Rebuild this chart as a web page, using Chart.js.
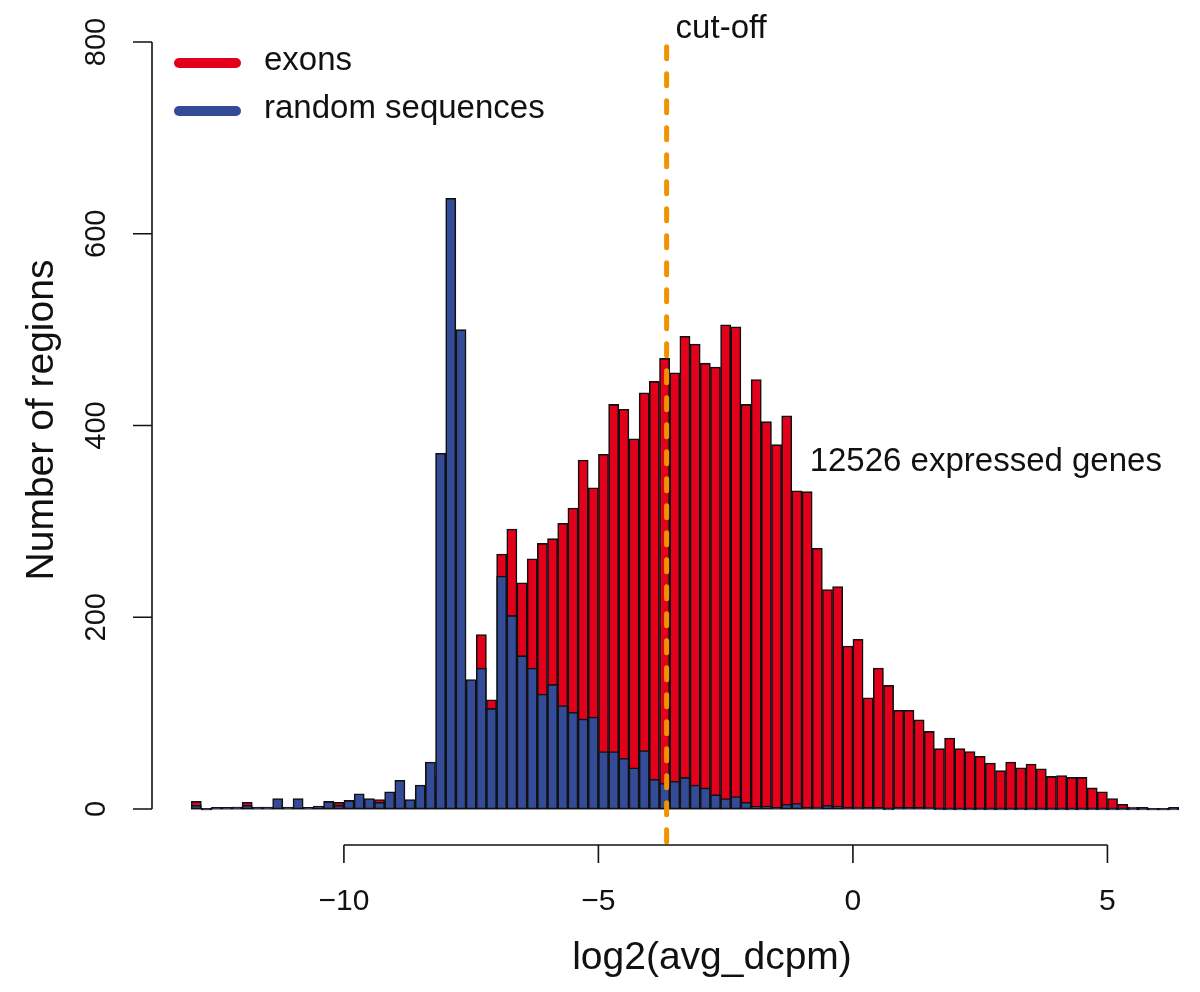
<!DOCTYPE html>
<html>
<head>
<meta charset="utf-8">
<script src="https://cdn.jsdelivr.net/npm/chart.js@4.4.1/dist/chart.umd.min.js"></script>
<style>
  html, body { margin: 0; padding: 0; background: #fff; }
  #wrap { width: 1200px; height: 992px; position: relative; }
</style>
</head>
<body>
<div id="wrap"><canvas id="chart"></canvas></div>
<script>
// histogram breaks: 0.2 wide bins starting at -13
const binStart = -13;
const binWidth = 0.2;

// counts per bin (exons / random sequences)
const exons = [
  8, 0, 1, 1, 2, 7, 1, 1, 2, 1,
  2, 1, 2, 3, 7, 3, 4, 5, 10, 8,
  10, 8, 12, 20, 35, 40, 50, 80, 182, 114,
  266, 292, 236, 261, 277, 282, 298, 314, 364, 335,
  370, 422, 417, 386, 434, 446, 470, 455, 493, 485,
  465, 461, 505, 503, 422, 448, 404, 380, 410, 332,
  331, 272, 229, 232, 170, 177, 116, 147, 129, 103,
  103, 93, 81, 63, 74, 63, 60, 55, 48, 40,
  49, 43, 47, 42, 34, 35, 33, 33, 22, 18,
  11, 5, 2, 1, 0, 0, 1
];
const randomSeq = [
  4, 0, 1, 1, 2, 4, 2, 2, 11, 2,
  11, 1, 3, 8, 4, 9, 16, 11, 7, 18,
  30, 10, 25, 49, 371, 637, 500, 135, 147, 105,
  243, 202, 160, 147, 120, 130, 108, 101, 94, 96,
  60, 60, 53, 43, 61, 31, 27, 29, 33, 25,
  22, 15, 11, 13, 7, 3, 3, 1, 5, 6,
  1, 2, 4, 3, 1, 2, 1, 1, 0, 1,
  1, 1, 2, 0, 0, 0, 0, 0, 0, 0,
  0, 0, 0, 0, 0, 0, 0, 0, 0, 0,
  0, 0, 0, 0, 0, 0, 0
];

const yTicks = [0, 200, 400, 600, 800];
const yTickLabels = ['0', '200', '400', '600', '800'];
const xTicks = [-10, -5, 0, 5];
const xTickLabels = ['\u221210', '\u22125', '0', '5'];

const cutOff = -3.66;
const cutOffLabel = 'cut-off';
const exprLabel = '12526 expressed genes';
const exprPos = { x: -0.85, y: 362 };

const RED = '#e2001a';
const BLUE = '#344b97';
const ORANGE = '#f39200';
const INK = '#111';
const FONT = "'Liberation Sans', Arial, Helvetica, sans-serif";

const centers = exons.map((_, i) => binStart + binWidth * (i + 0.5));

// R style axes, legend and annotations
const rStyle = {
  id: 'rStyle',
  afterDatasetsDraw(chart) {
    const { ctx, scales: { x, y } } = chart;
    // dashed cut-off line
    const cx = x.getPixelForValue(cutOff);
    ctx.save();
    ctx.strokeStyle = ORANGE;
    ctx.lineWidth = 5;
    ctx.lineCap = 'round';
    ctx.setLineDash([12, 15]);
    ctx.beginPath();
    ctx.moveTo(cx, y.getPixelForValue(795));
    ctx.lineTo(cx, y.getPixelForValue(-40));
    ctx.stroke();
    ctx.restore();
  },
  afterDraw(chart) {
    const { ctx, chartArea, scales: { x, y } } = chart;
    ctx.save();
    ctx.strokeStyle = INK;
    ctx.fillStyle = INK;
    ctx.lineWidth = 1.6;

    // y axis
    const ax = chartArea.left;
    ctx.beginPath();
    ctx.moveTo(ax, y.getPixelForValue(yTicks[0]));
    ctx.lineTo(ax, y.getPixelForValue(yTicks[yTicks.length - 1]));
    yTicks.forEach(v => {
      const py = y.getPixelForValue(v);
      ctx.moveTo(ax - 19, py);
      ctx.lineTo(ax, py);
    });
    ctx.stroke();
    ctx.font = '29px ' + FONT;
    ctx.textAlign = 'center';
    ctx.textBaseline = 'middle';
    yTicks.forEach((v, i) => {
      ctx.save();
      ctx.translate(ax - 55, y.getPixelForValue(v));
      ctx.rotate(-Math.PI / 2);
      ctx.fillText(yTickLabels[i], 0, 0);
      ctx.restore();
    });

    // x axis (detached below the bars)
    const ay = y.getPixelForValue(0) + 36;
    ctx.beginPath();
    ctx.moveTo(x.getPixelForValue(xTicks[0]), ay);
    ctx.lineTo(x.getPixelForValue(xTicks[xTicks.length - 1]), ay);
    xTicks.forEach(v => {
      const px = x.getPixelForValue(v);
      ctx.moveTo(px, ay);
      ctx.lineTo(px, ay + 18);
    });
    ctx.stroke();
    ctx.font = '30px ' + FONT;
    xTicks.forEach((v, i) => {
      ctx.fillText(xTickLabels[i], x.getPixelForValue(v), ay + 57);
    });

    // axis titles
    ctx.font = '39px ' + FONT;
    ctx.fillText('log2(avg_dcpm)', 712, 958);
    ctx.save();
    ctx.translate(42, 420);
    ctx.rotate(-Math.PI / 2);
    ctx.fillText('Number of regions', 0, 0);
    ctx.restore();

    // annotations
    ctx.font = '33px ' + FONT;
    ctx.textAlign = 'left';
    ctx.fillText(cutOffLabel, x.getPixelForValue(cutOff) + 9, 29);
    ctx.fillText(exprLabel, x.getPixelForValue(exprPos.x), y.getPixelForValue(exprPos.y));

    // legend
    const items = [['exons', RED, 63], ['random sequences', BLUE, 111]];
    items.forEach(([label, color, ly]) => {
      ctx.strokeStyle = color;
      ctx.lineWidth = 10;
      ctx.lineCap = 'round';
      ctx.beginPath();
      ctx.moveTo(179, ly);
      ctx.lineTo(236, ly);
      ctx.stroke();
      ctx.fillStyle = INK;
      ctx.fillText(label, 264, ly - 2);
    });
    ctx.restore();
  }
};

const ctx = document.getElementById('chart');
new Chart(ctx, {
  type: 'bar',
  data: {
    datasets: [
      {
        label: 'random sequences',
        data: randomSeq.map((v, i) => ({ x: centers[i], y: v })),
        backgroundColor: BLUE,
        order: 0
      },
      {
        label: 'exons',
        data: exons.map((v, i) => ({ x: centers[i], y: v })),
        backgroundColor: RED,
        order: 1
      }
    ]
  },
  options: {
    responsive: true,
    maintainAspectRatio: false,
    animation: false,
    layout: {
      padding: { left: 152, right: 9.6, top: 11.3, bottom: 144.6 }
    },
    datasets: {
      bar: {
        grouped: false,
        barPercentage: 1,
        categoryPercentage: 1,
        borderColor: '#111',
        borderWidth: 1.6,
        borderSkipped: false,
        minBarLength: 1.6
      }
    },
    scales: {
      x: { type: 'linear', min: -13.77, max: 6.63, offset: false, display: false },
      y: { min: -40, max: 832, display: false }
    },
    plugins: {
      legend: { display: false },
      tooltip: { enabled: false }
    }
  },
  plugins: [rStyle]
});
</script>
</body>
</html>
